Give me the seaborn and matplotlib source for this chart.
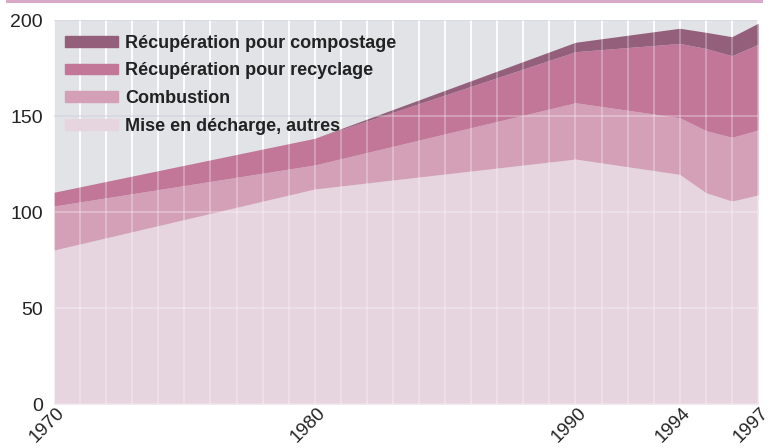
import matplotlib
matplotlib.use('Agg')
import matplotlib.pyplot as plt
from matplotlib.patches import Patch, Rectangle
from matplotlib.transforms import ScaledTranslation
import seaborn as sns
import pandas as pd

# Données (millions de tonnes)
annees = [1970, 1980, 1990, 1994, 1995, 1996, 1997]
decharge = [80.2, 112.0, 127.6, 119.6, 110.1, 105.7, 108.9]
combustion = [22.9, 12.5, 29.3, 29.5, 32.3, 33.2, 33.8]
recyclage = [7.2, 13.9, 26.6, 38.7, 42.8, 42.5, 44.6]
compostage = [0.0, 0.0, 4.9, 7.9, 8.4, 9.9, 11.0]

series = ['Mise en décharge, autres', 'Combustion',
          'Récupération pour recyclage', 'Récupération pour compostage']
couleurs = ['#e6d4de', '#d4a0b7', '#c27799', '#935f7b']
ticks_x = [1970, 1980, 1990, 1994, 1997]
ticks_y = [0, 50, 100, 150, 200]

df = pd.DataFrame({'annee': annees, series[0]: decharge, series[1]: combustion,
                   series[2]: recyclage, series[3]: compostage})

sns.set_theme(style='white')
plt.rcParams['font.family'] = ['Liberation Sans', 'DejaVu Sans']

fig = plt.figure(figsize=(7.73, 4.48), dpi=100)
pos = [54 / 773, 44 / 448, 704 / 773, 384 / 448]
ax = fig.add_axes(pos)
ax.set_facecolor('#e2e3e7')

ax.stackplot(df['annee'], [df[s] for s in series], colors=couleurs, linewidth=0)

ax.set_xlim(1970, 1997)
ax.set_ylim(0, 200)
ax.set_xticks(ticks_x)
ax.set_xticks(range(1970, 1998), minor=True)
ax.set_yticks(ticks_y)
ax.set_axisbelow(True)
ax.grid(True, which='both', axis='x', color='white', linewidth=1.3)
ax.grid(True, axis='y', color='#c6c7d3', linewidth=1.2)
ax.tick_params(axis='both', which='both', length=0, labelsize=14, labelcolor='#222222')
ax.tick_params(axis='y', pad=8)
ax.tick_params(axis='x', pad=0, labelsize=13.5)
decalage = ScaledTranslation(2 / 100, 0, fig.dpi_scale_trans)
for lab in ax.get_xticklabels():
    lab.set_rotation(45)
    lab.set_ha('right')
    lab.set_va('top')
    lab.set_rotation_mode('anchor')
    lab.set_transform(lab.get_transform() + decalage)
sns.despine(ax=ax, left=True, bottom=True)

# grille claire par-dessus les aires
ax2 = fig.add_axes(pos, sharex=ax, sharey=ax)
ax2.patch.set_visible(False)
ax2.grid(True, which='both', color='white', linewidth=1.3, alpha=0.3)
ax2.tick_params(which='both', length=0, labelbottom=False, labelleft=False)
sns.despine(ax=ax2, left=True, bottom=True)

handles = [Patch(color=c, label=s) for s, c in zip(series, couleurs)][::-1]
ax2.legend(handles=handles, loc='upper left', bbox_to_anchor=(0.016, 0.962),
           frameon=False, prop={'weight': 'bold', 'size': 13},
           handlelength=2.9, handleheight=0.55, handletextpad=0.4,
           labelspacing=0.6, borderpad=0, borderaxespad=0, labelcolor='#222222')

# bandeau rose en haut
fig.add_artist(Rectangle((6 / 773, 1 - 3 / 448), 757 / 773, 3 / 448,
                         transform=fig.transFigure, color='#d9a9c9', lw=0))

fig.savefig('out.png', dpi=100)
